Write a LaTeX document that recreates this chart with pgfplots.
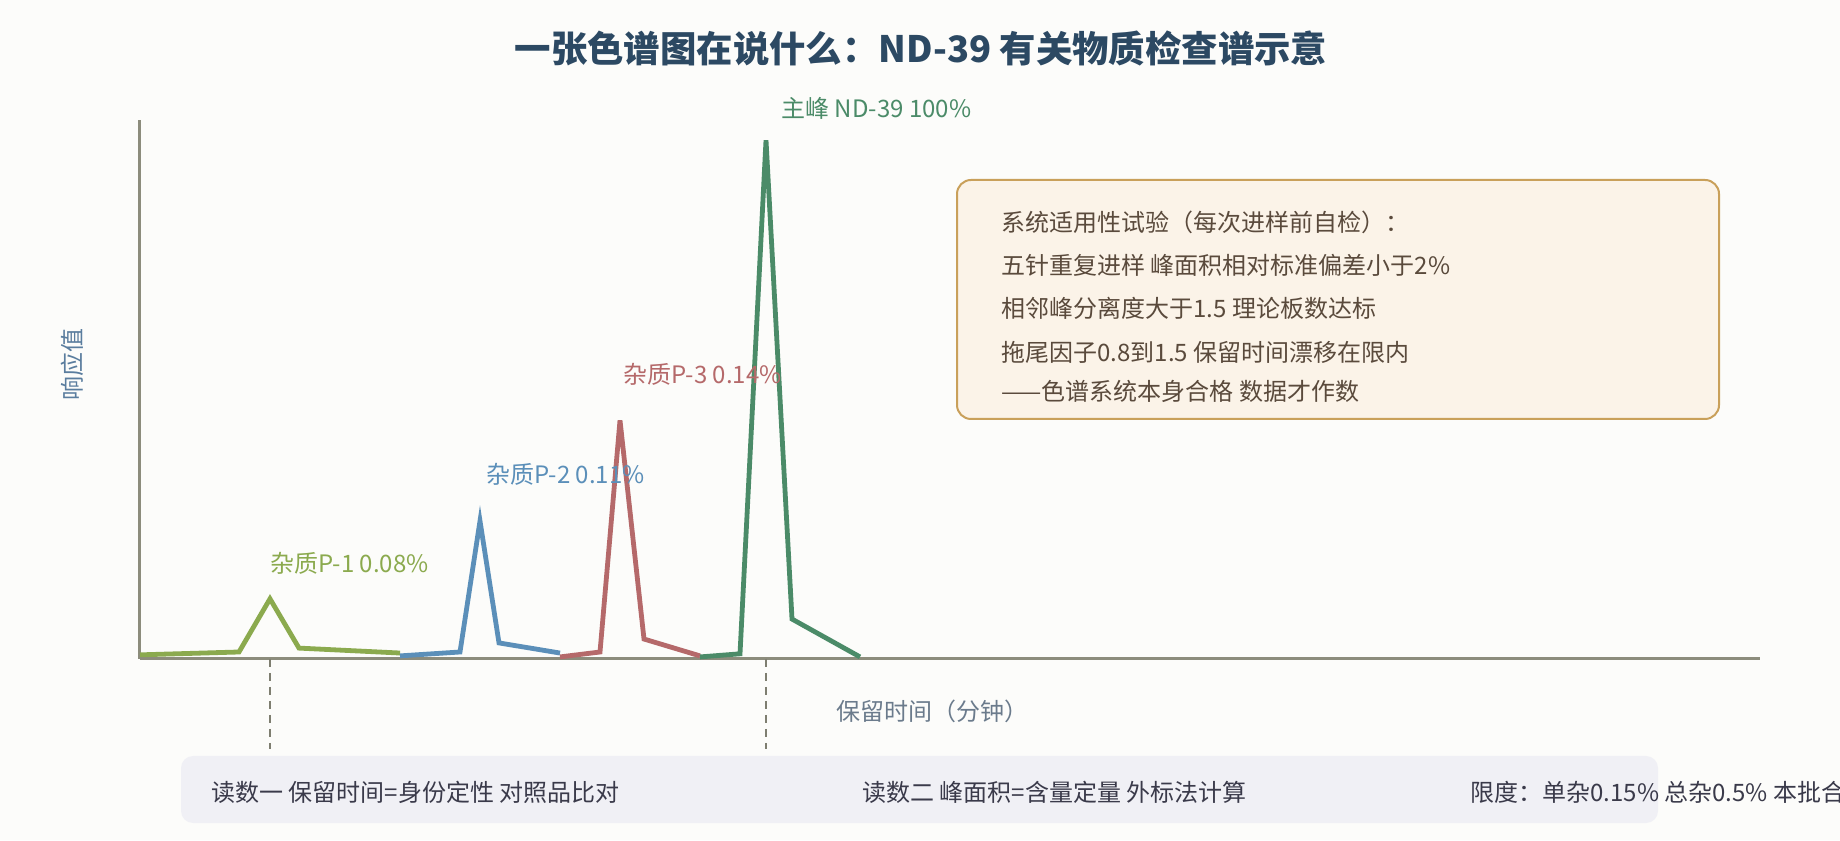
\documentclass[border=0pt]{standalone}
\usepackage{fontspec}
\setmainfont{Noto Sans CJK SC}
\usepackage{pgfplots}
\pgfplotsset{compat=1.18}

\definecolor{bgc}{HTML}{FCFCFA}
\definecolor{axc}{HTML}{8C8C7C}
\definecolor{pone}{HTML}{8BAA4E}
\definecolor{ptwo}{HTML}{5B8FB9}
\definecolor{pthree}{HTML}{B5696A}
\definecolor{pmain}{HTML}{4B8B68}
\definecolor{titlec}{HTML}{2C4963}
\definecolor{ylabc}{HTML}{5A7D9E}
\definecolor{xlabc}{HTML}{6B7B8C}
\definecolor{boxfill}{HTML}{FBF3E8}
\definecolor{boxdraw}{HTML}{C9A05A}
\definecolor{boxtext}{HTML}{5A4A3C}
\definecolor{bandfill}{HTML}{F0F0F5}
\definecolor{bandtext}{HTML}{3A3A4A}

\begin{document}
\begin{tikzpicture}
\path[use as bounding box] (0,0) rectangle (920pt,420pt);
\fill[bgc] (0,0) rectangle (920pt,420pt);
\clip (0,0) rectangle (920pt,420pt);

% title
\node[font=\fontsize{18.2}{22}\selectfont\bfseries,text=titlec] at (460.5pt,396pt)
  {一张色谱图在说什么：ND-39 有关物质检查谱示意};

\begin{axis}[
  at={(70pt,90.5pt)},anchor=origin,
  width=810pt,height=269.5pt,scale only axis,
  xmin=0,xmax=40.5,ymin=0,ymax=103.9,
  axis x line=bottom,axis y line=left,
  axis line style={-,axc,line width=1.5pt},
  xtick=\empty,ytick=\empty,
  clip=false,
  xlabel={保留时间（分钟）},
  xlabel style={at={(axis description cs:0.489,-0.098)},anchor=center,
    font=\fontsize{12}{14}\selectfont,text=xlabc},
  ylabel={响应值},
  ylabel style={at={(axis description cs:-0.042,0.547)},anchor=center,rotate=0,
    font=\fontsize{12}{14}\selectfont,text=ylabc},
  every axis plot/.append style={line width=2.4pt,no markers},
]
% reading guides under the two marked peaks
\draw[axc!90!black,line width=0.7pt,dash pattern=on 4pt off 3pt] (axis cs:3.25,0) -- (axis cs:3.25,-17.3);
\draw[axc!90!black,line width=0.7pt,dash pattern=on 4pt off 3pt] (axis cs:15.65,0) -- (axis cs:15.65,-17.3);

\addplot[pone] coordinates {(0,0.8) (2.475,1.35) (3.25,11.6) (3.975,2.1) (6.5,1.15)};
\addplot[ptwo] coordinates {(6.5,0.6) (8,1.35) (8.5,26.6) (8.975,3.1) (10.5,1.15)};
\addplot[pthree] coordinates {(10.5,0.4) (11.5,1.35) (12,46) (12.6,3.85) (14,0.6)};
\addplot[pmain] coordinates {(14,0.4) (15,1.0) (15.65,100) (16.3,7.7) (18,0.4)};

\node[anchor=west,text=pone,font=\fontsize{12}{14}\selectfont,inner sep=0pt] at (axis cs:3.25,18.5) {杂质P-1 0.08\%};
\node[anchor=west,text=ptwo,font=\fontsize{12}{14}\selectfont,inner sep=0pt] at (axis cs:8.65,35.5) {杂质P-2 0.11\%};
\node[anchor=west,text=pthree,font=\fontsize{12}{14}\selectfont,inner sep=0pt] at (axis cs:12.075,54.8) {杂质P-3 0.14\%};
\node[anchor=west,text=pmain,font=\fontsize{12}{14}\selectfont,inner sep=0pt] at (axis cs:16.03,106.2) {主峰 ND-39 100\%};
\end{axis}

% system suitability box
\draw[boxdraw,fill=boxfill,line width=1pt,rounded corners=7pt] (478.5pt,330pt) rectangle (859.5pt,210.5pt);
\begin{scope}[every node/.style={anchor=west,text=boxtext,font=\fontsize{12}{14}\selectfont,inner sep=0pt}]
\node at (500.5pt,309pt) {系统适用性试验（每次进样前自检）：};
\node at (500.5pt,287.5pt) {五针重复进样 峰面积相对标准偏差小于2\%};
\node at (500.5pt,266pt) {相邻峰分离度大于1.5 理论板数达标};
\node at (500.5pt,244pt) {拖尾因子0.8到1.5 保留时间漂移在限内};
\node at (500.5pt,224.5pt) {——色谱系统本身合格 数据才作数};
\end{scope}

% bottom band
\fill[bandfill,rounded corners=6pt] (90.5pt,42pt) rectangle (829pt,8.5pt);
\begin{scope}[every node/.style={anchor=west,text=bandtext,font=\fontsize{12}{14}\selectfont,inner sep=0pt}]
\node at (105.5pt,24pt) {读数一 保留时间=身份定性 对照品比对};
\node at (431pt,24pt) {读数二 峰面积=含量定量 外标法计算};
\node at (735pt,24pt) {限度：单杂0.15\% 总杂0.5\% 本批合格};
\end{scope}
\end{tikzpicture}
\end{document}
